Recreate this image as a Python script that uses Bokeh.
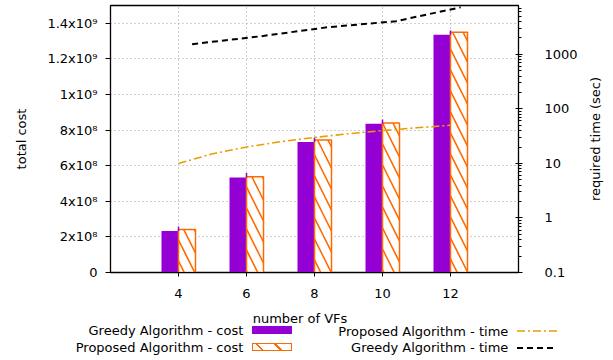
from bokeh.plotting import figure
from bokeh.layouts import column, row
from bokeh.models import (Range1d, LogAxis, LogScale, FixedTicker, ColumnDataSource, Div)
from bokeh.transform import dodge
from bokeh.embed import file_html
from bokeh.resources import INLINE

# ---------------- data ----------------
vfs = [4, 6, 8, 10, 12]
greedy_cost = [2.33e8, 5.34e8, 7.33e8, 8.35e8, 1.335e9]
proposed_cost = [2.41e8, 5.38e8, 7.45e8, 8.40e8, 1.350e9]
greedy_cost_err = [2.5e7, 2.5e7, 2.5e7, 2.5e7, 2.5e7]

time_x = [4, 5, 6, 7, 8, 9, 10, 11, 12]
proposed_time = [10, 15, 20, 25, 30, 35, 40, 45, 50]
greedy_time_x = [4.4, 6.4, 8.4, 10.4, 12.3]
greedy_time = [1540, 2140, 3150, 4060, 7300]

cost_ticks = [0, 2e8, 4e8, 6e8, 8e8, 1e9, 1.2e9, 1.4e9]
cost_tick_labels = ["0", "2x10⁸", "4x10⁸", "6x10⁸", "8x10⁸", "1x10⁹", "1.2x10⁹", "1.4x10⁹"]
time_ticks = [0.1, 1, 10, 100, 1000]
time_tick_labels = ["0.1", "1", "10", "100", "1000"]

legend_labels = ["Greedy Algorithm - cost", "Proposed Algorithm - cost",
                 "Proposed Algorithm - time", "Greedy Algorithm - time"]

FONT = "DejaVu Sans"
FS = "13px"
PURPLE = "#9400D3"
ORANGE = "#FF6A00"
GOLD = "#E69F00"

TOTAL_W = 613
WP, HP = 582, 305          # main figure
FRAME_L, FRAME_R, FRAME_T, FRAME_B = 110, 518, 5, 272

p = figure(width=WP, height=HP, output_backend="svg", toolbar_location=None,
           x_range=Range1d(2, 14), y_range=Range1d(0, 1.5e9),
           min_border_left=FRAME_L, min_border_right=WP - FRAME_R,
           min_border_top=FRAME_T, min_border_bottom=HP - FRAME_B)
p.extra_y_ranges = {"time": Range1d(0.1, 7870)}
p.extra_y_scales = {"time": LogScale()}

p.outline_line_color = "black"
p.outline_line_width = 1.3
p.background_fill_color = "white"

# axes
xa = p.xaxis[0]
xa.ticker = FixedTicker(ticks=vfs)
xa.major_tick_in = 0
xa.major_tick_out = 4
xa.minor_tick_line_color = None
xa.major_label_standoff = 12
xa.major_label_text_font = FONT
xa.major_label_text_font_size = FS
xa.major_label_text_color = "black"
xa.axis_line_color = "black"

ya = p.yaxis[0]
ya.ticker = FixedTicker(ticks=cost_ticks)
ya.major_label_overrides = {t: s for t, s in zip(cost_ticks, cost_tick_labels)}
ya.major_tick_in = 0
ya.major_tick_out = 5
ya.minor_tick_line_color = None
ya.major_label_standoff = 8
ya.major_label_text_font = FONT
ya.major_label_text_font_size = FS
ya.major_label_text_color = "black"
ya.axis_label = "total cost"
ya.axis_label_text_font = FONT
ya.axis_label_text_font_size = FS
ya.axis_label_text_font_style = "normal"
ya.axis_label_text_color = "black"
ya.axis_label_standoff = 15

minor_time = [m * d for d in [0.1, 1, 10, 100, 1000] for m in range(2, 10)]
ra = LogAxis(y_range_name="time",
             ticker=FixedTicker(ticks=time_ticks, minor_ticks=minor_time))
ra.major_label_overrides = {t: s for t, s in zip(time_ticks, time_tick_labels)}
ra.major_tick_in = 3
ra.major_tick_out = 4
ra.minor_tick_in = 0
ra.minor_tick_out = 3
ra.major_label_standoff = 22
ra.major_label_text_font = FONT
ra.major_label_text_font_size = FS
ra.major_label_text_color = "black"
p.add_layout(ra, "right")

# grid
p.xgrid.ticker = FixedTicker(ticks=vfs)
p.ygrid.ticker = FixedTicker(ticks=cost_ticks[1:])
for g in (p.xgrid[0], p.ygrid[0]):
    g.grid_line_color = "#a0a0a0"
    g.grid_line_dash = "1 3"
    g.grid_line_width = 1

# bars
src = ColumnDataSource(dict(x=vfs, g=greedy_cost, pc=proposed_cost,
                            gt=[a + b for a, b in zip(greedy_cost, greedy_cost_err)]))
p.vbar(x=dodge("x", -0.25, range=p.x_range), top="g", width=0.5, bottom=0,
       source=src, fill_color=PURPLE, line_color=None)
p.vbar(x=dodge("x", 0.25, range=p.x_range), top="pc", width=0.5, bottom=0,
       source=src, fill_color="white", line_color=ORANGE, line_width=1.5,
       hatch_pattern="\\", hatch_color=ORANGE, hatch_scale=21, hatch_weight=1.6)
p.segment(x0="x", y0="g", x1="x", y1="gt", source=src, line_color=PURPLE, line_width=1.5)

# time lines
p.line(time_x, proposed_time, y_range_name="time", line_color=GOLD,
       line_width=1.6, line_dash="8 3 2 3")
p.line(greedy_time_x, greedy_time, y_range_name="time", line_color="black",
       line_width=2, line_dash="6 4")

# ---------------- right axis title (HTML, reads bottom-to-top) ----------------
RW = TOTAL_W - WP
FONT_CSS = f"font-family:'{FONT}';font-size:{FS};color:black;white-space:nowrap;line-height:15px;"
right_html = (
    f'<div style="position:relative;width:{RW}px;height:{HP}px;margin:0;padding:0;">'
    f'<div style="position:absolute;left:{595 - WP}px;top:{(FRAME_T + FRAME_B) / 2}px;'
    f'transform:translate(-50%,-50%) rotate(-90deg);{FONT_CSS}">required time (sec)</div></div>'
)
rdiv = Div(text=right_html, width=RW, height=HP, margin=0)

# ---------------- x title and legend strip (HTML) ----------------
HL = 53
Y0 = HP


def txt(s, top, left=None, right=None, center=False):
    pos = f"top:{top - Y0 - 12}px;"
    if center:
        pos += f"left:{left}px;transform:translateX(-50%);"
    elif right is not None:
        pos += f"right:{TOTAL_W - right}px;text-align:right;"
    return f'<div style="position:absolute;{pos}{FONT_CSS}">{s}</div>'


hatch_bg = (f"background:repeating-linear-gradient(45deg,white 0px,white 6px,"
            f"{ORANGE} 6px,{ORANGE} 7.6px,white 7.6px,white 13px);")
parts = [
    txt("number of VFs", 322.5, left=300, center=True),
    txt(legend_labels[0], 335, right=243.3),
    txt(legend_labels[1], 351.5, right=243.3),
    txt(legend_labels[2], 335.5, right=508.3),
    txt(legend_labels[3], 351.5, right=508.3),
    f'<div style="position:absolute;left:251.7px;top:{326 - Y0}px;width:40.6px;height:8.3px;'
    f'background:{PURPLE};"></div>',
    f'<div style="position:absolute;left:252px;top:{342.7 - Y0}px;width:40px;height:8px;'
    f'box-sizing:border-box;border:1.5px solid {ORANGE};{hatch_bg}"></div>',
    f'<svg style="position:absolute;left:517px;top:{330.7 - Y0 - 2}px;" width="40" height="4">'
    f'<line x1="0" y1="2" x2="40" y2="2" stroke="{GOLD}" stroke-width="1.6" '
    f'stroke-dasharray="8 3 2 3"/></svg>',
    f'<svg style="position:absolute;left:517px;top:{347.7 - Y0 - 2}px;" width="40" height="4">'
    f'<line x1="0" y1="2" x2="40" y2="2" stroke="black" stroke-width="2" '
    f'stroke-dasharray="6 4"/></svg>',
]
legend_html = (f'<div style="position:relative;width:{TOTAL_W}px;height:{HL}px;margin:0;padding:0;">'
               + "".join(parts) + "</div>")
ldiv = Div(text=legend_html, width=TOTAL_W, height=HL, margin=0)

layout = column(row(p, rdiv, spacing=0), ldiv, spacing=0)
open("out.html", "w").write(file_html(layout, INLINE))
